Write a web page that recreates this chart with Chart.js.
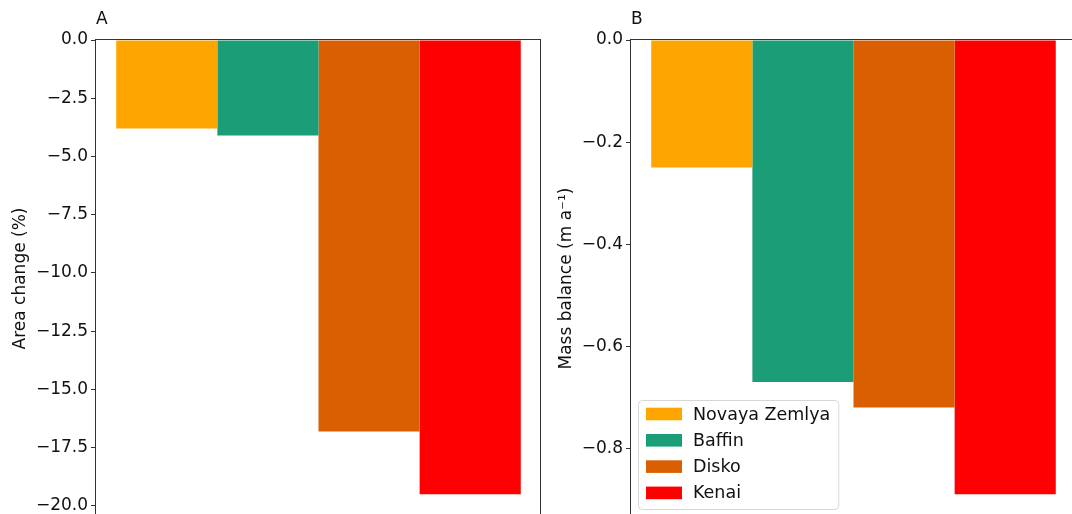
<!DOCTYPE html>
<html>
<head>
<meta charset="utf-8">
<title>Glacier area change and mass balance</title>
<script src="https://cdn.jsdelivr.net/npm/chart.js@4"></script>
<style>
  html, body { margin: 0; padding: 0; background: #fff; }
  body { width: 1072px; height: 514px; overflow: hidden; position: relative; }
  canvas { position: absolute; top: 0; }
  #panelA { left: 0; }
  #panelB { left: 535px; }
</style>
</head>
<body>
<canvas id="panelA" width="560" height="540"></canvas>
<canvas id="panelB" width="560" height="540"></canvas>
<script>
// regiones y colores de cada barra
const regions = ['Novaya Zemlya', 'Baffin', 'Disko', 'Kenai'];
const colours = ['#ffa500', '#1b9e77', '#d95f02', '#ff0000'];

// cambio de area (%) y balance de masa (m a-1)
const areaChange = [-3.8, -4.1, -16.8, -19.5];
const massBalance = [-0.25, -0.67, -0.72, -0.89];

// pasos de los ticks del eje y
const areaStep = 2.5;
const massStep = 0.2;

Chart.defaults.font.family = "'DejaVu Sans', sans-serif";
Chart.defaults.font.size = 17;
Chart.defaults.color = '#111';

// formato tipo matplotlib: signo menos unicode y un decimal
function tickLabel(v) {
    return (v < 0 ? '\u2212' : '') + Math.abs(v).toFixed(1);
}

// marco completo alrededor del area del grafico
const framePlugin = {
    id: 'frame',
    afterDraw(chart) {
        const a = chart.chartArea;
        const ctx = chart.ctx;
        ctx.save();
        ctx.strokeStyle = '#333';
        ctx.lineWidth = 1;
        ctx.strokeRect(Math.round(a.left) - 0.5, Math.round(a.top) - 0.5,
            Math.round(a.right - a.left), Math.round(a.bottom - a.top));
        ctx.restore();
    }
};

// leyenda dentro del grafico, abajo a la izquierda
const insideLegend = {
    id: 'insideLegend',
    afterDraw(chart, args, opts) {
        if (!opts.display) return;
        const ctx = chart.ctx;
        const a = chart.chartArea;
        const sets = chart.data.datasets;
        ctx.save();
        ctx.font = "17.5px 'DejaVu Sans', sans-serif";
        let textW = 0;
        sets.forEach(ds => { textW = Math.max(textW, ctx.measureText(ds.label).width); });
        const rowH = 26.3;
        const w = 55 + textW + 8;
        const h = 109;
        const x = Math.round(a.left) + 7;
        const y = Math.round(a.bottom) - 8 - h;

        ctx.beginPath();
        ctx.roundRect(x + 0.5, y + 0.5, w, h, 4);
        ctx.fillStyle = 'rgba(255,255,255,0.8)';
        ctx.fill();
        ctx.strokeStyle = '#d6d6d6';
        ctx.lineWidth = 1;
        ctx.stroke();

        ctx.textBaseline = 'middle';
        ctx.textAlign = 'left';
        sets.forEach((ds, i) => {
            const cy = y + 14 + i * rowH;
            ctx.fillStyle = ds.backgroundColor;
            ctx.fillRect(x + 8, cy - 6.3, 36, 12.6);
            ctx.fillStyle = '#111';
            ctx.fillText(ds.label, x + 55, cy + 1);
        });
        ctx.restore();
    }
};

function makePanel(canvasId, letter, values, step, yTitle, titlePad, showLegend) {
    const yMin = Math.min(...values) * 1.05;
    const ctx = document.getElementById(canvasId).getContext('2d');
    return new Chart(ctx, {
        type: 'bar',
        data: {
            labels: [''],
            datasets: regions.map((r, i) => ({
                label: r,
                data: [values[i]],
                backgroundColor: colours[i],
                borderWidth: 0,
                categoryPercentage: 4 / 4.4,
                barPercentage: 1
            }))
        },
        options: {
            responsive: false,
            animation: false,
            layout: { padding: { left: 0, right: 19, top: 0, bottom: 23 } },
            plugins: {
                legend: { display: false },
                tooltip: { enabled: false },
                title: {
                    display: true,
                    text: letter,
                    align: 'start',
                    fullSize: false,
                    color: '#111',
                    font: { size: 17, weight: 'normal' },
                    padding: { top: 9.5, bottom: 10.1 }
                },
                insideLegend: { display: showLegend }
            },
            scales: {
                x: { display: false },
                y: {
                    min: yMin,
                    max: 0,
                    afterFit(scale) { scale.width = 96; },
                    border: { display: false },
                    grid: {
                        drawOnChartArea: false,
                        drawTicks: true,
                        tickLength: 5,
                        tickColor: '#333'
                    },
                    ticks: {
                        stepSize: step,
                        includeBounds: false,
                        padding: 3,
                        color: '#111',
                        callback: tickLabel
                    },
                    title: {
                        display: true,
                        text: yTitle,
                        color: '#111',
                        font: { size: 17 },
                        padding: { top: titlePad, bottom: 0 }
                    }
                }
            }
        },
        plugins: [framePlugin, insideLegend]
    });
}

makePanel('panelA', 'A', areaChange, areaStep, 'Area change (%)', 10.8, false);
makePanel('panelB', 'B', massBalance, massStep, 'Mass balance (m a\u207B\u00B9)', 21.8, true);
</script>
</body>
</html>
